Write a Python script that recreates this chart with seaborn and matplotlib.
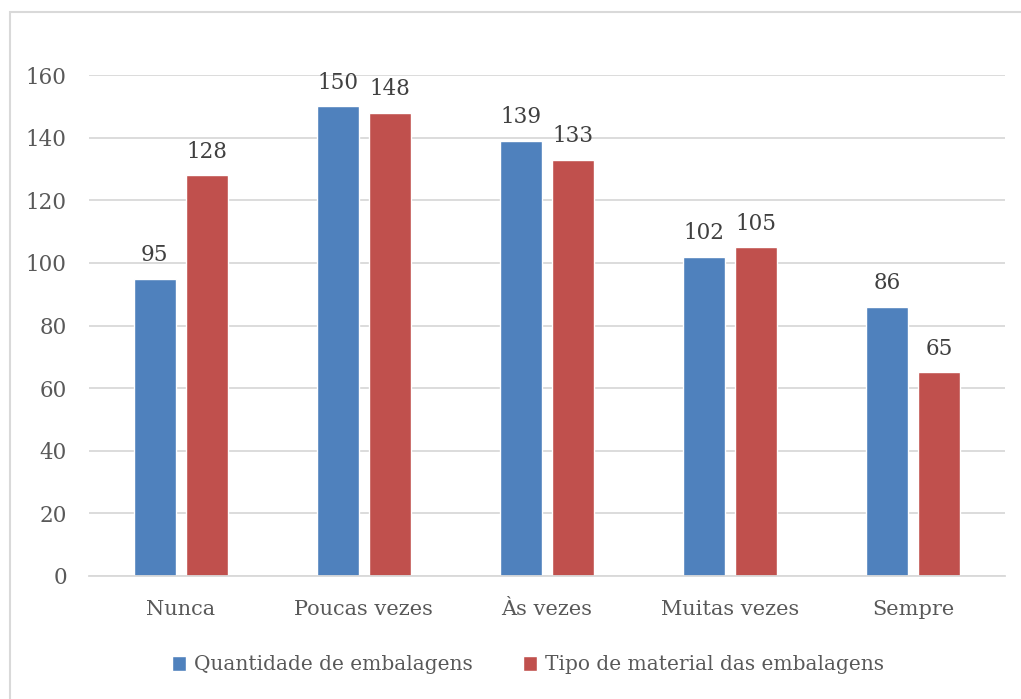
import matplotlib
matplotlib.use("Agg")
import matplotlib.pyplot as plt
import seaborn as sns
import pandas as pd
from matplotlib.patches import Rectangle, Patch

categories = ["Nunca", "Poucas vezes", "Às vezes", "Muitas vezes", "Sempre"]
series_names = ["Quantidade de embalagens", "Tipo de material das embalagens"]
quantidade = [95, 150, 139, 102, 86]
tipo_material = [128, 148, 133, 105, 65]
yticks = [0, 20, 40, 60, 80, 100, 120, 140, 160]

colors = ["#4F81BD", "#C0504D"]
text_color = "#595959"

df = pd.DataFrame({
    "cat": categories * 2,
    "serie": [series_names[0]] * len(categories) + [series_names[1]] * len(categories),
    "val": quantidade + tipo_material,
})

sns.set_theme(style="white")
plt.rcParams["font.family"] = ["DejaVu Serif"]

fig = plt.figure(figsize=(10.21, 6.99), dpi=100)
ax = fig.add_axes([89 / 1021, 1 - 576 / 699, (1005 - 89) / 1021, (576 - 75) / 699])

sns.barplot(data=df, x="cat", y="val", hue="serie", palette=colors,
            width=0.568, gap=0.19, ax=ax, legend=False, saturation=1)

for c in ax.containers:
    ax.bar_label(c, padding=9, fontsize=15.5, color="#404040")

ax.set_ylim(0, 160)
ax.set_xlim(-0.5, 4.5)
ax.set_yticks(yticks)
ax.yaxis.grid(True, color="#D9D9D9", linewidth=1.3)
ax.set_axisbelow(True)
for s in ["top", "right", "left"]:
    ax.spines[s].set_visible(False)
ax.spines["bottom"].set_color("#D9D9D9")
ax.spines["bottom"].set_linewidth(1.3)
ax.set_xlabel("")
ax.set_ylabel("")
ax.tick_params(axis="y", labelsize=15.5, labelcolor=text_color, length=0, pad=16)
ax.tick_params(axis="x", labelsize=15, labelcolor=text_color, length=0, pad=17)

handles = [Patch(facecolor=colors[0], label=series_names[0]),
           Patch(facecolor=colors[1], label=series_names[1])]
leg = fig.legend(handles=handles, loc="center", bbox_to_anchor=(0.517, 1 - 665 / 699),
                 ncol=2, frameon=False, fontsize=14.5, handlelength=0.7, handleheight=0.7,
                 handletextpad=0.4, columnspacing=2.5)
for t in leg.get_texts():
    t.set_color(text_color)

border = Rectangle((10 / 1021, -0.1), 1.2, 1 - 12 / 699 + 0.1, transform=fig.transFigure,
                   fill=False, edgecolor="#D9D9D9", linewidth=1.5, clip_on=False)
fig.patches.append(border)

fig.savefig("out.png", dpi=100)
